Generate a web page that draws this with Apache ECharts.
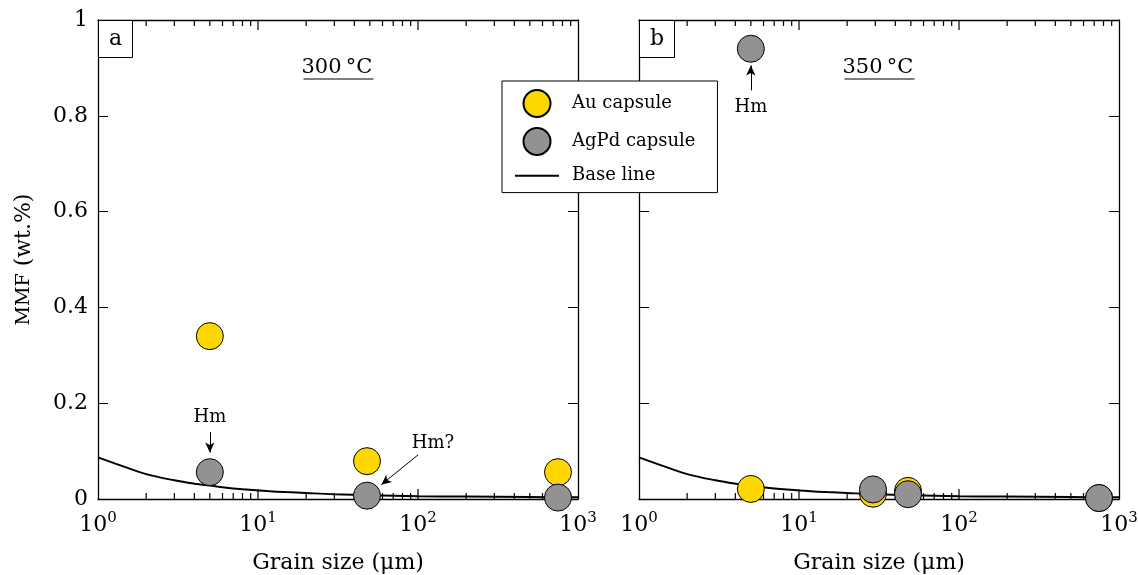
<!DOCTYPE html>
<html>
<head>
<meta charset="utf-8">
<script src="https://cdn.jsdelivr.net/npm/echarts@6/dist/echarts.min.js"></script>
<style>
html,body{margin:0;padding:0;background:#fff;}
#chart{width:1138px;height:575px;}
</style>
</head>
<body>
<div id="chart"></div>
<script>
// ---------- data ----------
var seriesNames = ['Au capsule', 'AgPd capsule', 'Base line'];
var panelLabels = ['a', 'b'];
var panelTemps = ['300\u2009°C', '350\u2009°C'];
var majorTickValues = [10, 100];
var minorTickValues = [2,3,4,5,6,7,8,9,20,30,40,50,60,70,80,90,200,300,400,500,600,700,800,900];

// panel a (300 °C): [grain size µm, MMF wt.%]
var au300 = [[5, 0.34], [48, 0.079], [750, 0.056]];
var agpd300 = [[5, 0.056], [48, 0.007], [750, 0.003]];
// panel b (350 °C)
var au350 = [[5, 0.021], [29, 0.011], [48, 0.017], [750, 0.002]];
var agpd350 = [[5, 0.94], [29, 0.02], [48, 0.01], [750, 0.002]];

// base line
var baseX = [1, 1.5, 2, 3, 4, 5, 7, 10, 15, 20, 30, 50, 100, 200, 500, 1000];
var baseY = [0.087, 0.066, 0.052, 0.039, 0.032, 0.028, 0.022, 0.018, 0.0145, 0.0125, 0.010, 0.008, 0.006, 0.005, 0.004, 0.0035];

// annotations: text [x, y, label]; arrows [[x1,y1],[x2,y2]]
var notes300 = [[5, 0.171, 'Hm'], [124, 0.117, 'Hm?']];
var arrows300 = [[[5, 0.140], [5, 0.097]], [[100, 0.092], [59, 0.030]]];
var notes350 = [[5, 0.818, 'Hm']];
var arrows350 = [[[5, 0.853], [5, 0.905]]];

// ---------- chart ----------
var FONT = 'DejaVu Serif';
var AU_COLOR = '#FFD700';
var AGPD_COLOR = '#929292';
var MAJOR_LEN = 10, MINOR_LEN = 6;

var baseLine = baseX.map(function (x, i) { return [x, baseY[i]]; });
var tickVals = majorTickValues.concat(minorTickValues);
var tickLens = majorTickValues.map(function () { return MAJOR_LEN; })
  .concat(minorTickValues.map(function () { return MINOR_LEN; }));

function xAxisPair(gi) {
  return [{
    gridIndex: gi, type: 'log', logBase: 10, min: 1, max: 1000, position: 'bottom',
    axisLine: { show: true, onZero: false, lineStyle: { color: '#000', width: 1.3 } },
    axisTick: { show: false },
    splitLine: { show: false },
    axisLabel: {
      show: true, margin: 12, color: '#000', fontFamily: FONT,
      formatter: function (v) { return '{b|10}{s|' + Math.round(Math.log10(v)) + '}'; },
      rich: {
        b: { fontSize: 22, fontFamily: FONT, color: '#000', lineHeight: 28 },
        s: { fontSize: 15, fontFamily: FONT, color: '#000', verticalAlign: 'top', lineHeight: 16 }
      }
    },
    name: 'Grain size (μm)', nameLocation: 'middle', nameGap: 53,
    nameTextStyle: { fontFamily: FONT, fontSize: 22, color: '#000' }
  }, {
    gridIndex: gi, type: 'log', logBase: 10, min: 1, max: 1000, position: 'top',
    axisLine: { show: true, onZero: false, lineStyle: { color: '#000', width: 1.3 } },
    axisTick: { show: false },
    splitLine: { show: false },
    axisLabel: { show: false }
  }];
}

function yAxisPair(gi, showLabels) {
  var common = {
    gridIndex: gi, type: 'value', min: 0, max: 1, interval: 0.2,
    axisLine: { show: true, onZero: false, lineStyle: { color: '#000', width: 1.3 } },
    axisTick: { show: true, inside: true, length: 10, lineStyle: { color: '#000', width: 1 } },
    splitLine: { show: false }
  };
  var left = Object.assign({}, common, {
    position: 'left',
    axisLabel: { show: showLabels, margin: 10, color: '#000', fontFamily: FONT, fontSize: 22 }
  });
  if (showLabels) {
    left.name = '{s|MMF} (wt.%)';
    left.nameLocation = 'middle';
    left.nameGap = 63;
    left.nameTextStyle = { fontFamily: FONT, fontSize: 22, color: '#000',
      rich: { s: { fontFamily: FONT, fontSize: 19, color: '#000' } } };
  }
  var right = Object.assign({}, common, { position: 'right', axisLabel: { show: false } });
  return [left, right];
}

// x-axis ticks (major + minor) on bottom and top edges, placed through the log scale
function xTickSeries(gi) {
  return {
    type: 'custom', xAxisIndex: gi * 2, yAxisIndex: gi * 2, silent: true, clip: false,
    zlevel: 1, z: 1,
    data: tickVals.map(function (v) { return [v, 0]; }),
    renderItem: function (params, api) {
      var v = api.value(0);
      var len = tickLens[params.dataIndex];
      var b = api.coord([v, 0]);
      var t = api.coord([v, 1]);
      return {
        type: 'group', children: [
          { type: 'line', shape: { x1: b[0], y1: b[1], x2: b[0], y2: b[1] - len }, style: { stroke: '#000', lineWidth: 1.2 } },
          { type: 'line', shape: { x1: t[0], y1: t[1], x2: t[0], y2: t[1] + len }, style: { stroke: '#000', lineWidth: 1.2 } }
        ]
      };
    }
  };
}

function noteSeries(gi, notes) {
  return {
    type: 'custom', xAxisIndex: gi * 2, yAxisIndex: gi * 2, silent: true, clip: false,
    zlevel: 1, z: 9,
    data: notes.map(function (n) { return [n[0], n[1]]; }),
    renderItem: function (params, api) {
      var p = api.coord([api.value(0), api.value(1)]);
      return {
        type: 'text', x: p[0], y: p[1],
        style: { text: notes[params.dataIndex][2], fill: '#000', fontFamily: FONT, fontSize: 18,
          align: 'center', verticalAlign: 'middle' }
      };
    }
  };
}

function scatter(name, gi, data, color, z, arrows) {
  var s = {
    name: name, type: 'scatter', xAxisIndex: gi * 2, yAxisIndex: gi * 2,
    data: data, symbol: 'circle', symbolSize: 27, zlevel: 1, z: z,
    itemStyle: { color: color, borderColor: '#000', borderWidth: 1, opacity: 1 }
  };
  if (arrows) {
    s.markLine = {
      silent: true, symbol: ['none', 'arrow'], symbolSize: [7, 10], animation: false,
      lineStyle: { color: '#000', width: 1, type: 'solid' }, label: { show: false },
      data: arrows.map(function (a) { return [{ coord: a[0] }, { coord: a[1] }]; })
    };
  }
  return s;
}

function lineSeries(gi) {
  return {
    name: 'Base line', type: 'line', xAxisIndex: gi * 2, yAxisIndex: gi * 2,
    data: baseLine, smooth: 0.4, symbol: 'none', z: 6,
    lineStyle: { color: '#000', width: 2 }, itemStyle: { color: '#000' }
  };
}

var grids = [
  { left: 98, top: 20, width: 480, height: 479, outerBoundsMode: 'none', containLabel: false },
  { left: 639, top: 20, width: 480, height: 479, outerBoundsMode: 'none', containLabel: false }
];

var option = {
  animation: false,
  backgroundColor: '#fff',
  grid: grids,
  xAxis: xAxisPair(0).concat(xAxisPair(1)),
  yAxis: yAxisPair(0, true).concat(yAxisPair(1, false)),
  title: panelLabels.map(function (t, i) {
    return {
      text: t, left: grids[i].left, top: grids[i].top,
      borderColor: '#000', borderWidth: 1, padding: [7, 11, 7, 11], backgroundColor: '#fff',
      textStyle: { fontFamily: FONT, fontSize: 22, fontWeight: 'normal', color: '#000', lineHeight: 24 }
    };
  }),
  legend: {
    data: [
      { name: seriesNames[0] },
      { name: seriesNames[1] },
      { name: seriesNames[2], itemStyle: { color: 'transparent', borderWidth: 0, opacity: 0 } }
    ],
    orient: 'vertical', left: 502, top: 81,
    backgroundColor: '#fff', borderColor: '#000', borderWidth: 1,
    padding: [8, 22, 6, 12], itemGap: 9, itemWidth: 44, itemHeight: 27,
    textStyle: { fontFamily: FONT, fontSize: 18, color: '#000', padding: [0, 0, 0, 8] },
    selectedMode: false, zlevel: 2, z: 20
  },
  graphic: [
    { type: 'group', left: 301, top: 57, children: [
      { type: 'text', left: 0, top: 0, style: { text: panelTemps[0], fontFamily: FONT, fontSize: 21, fill: '#000' } },
      { type: 'line', shape: { x1: 2, y1: 22, x2: 72, y2: 22 }, style: { stroke: '#000', lineWidth: 1.2 } }
    ] },
    { type: 'group', left: 842, top: 57, children: [
      { type: 'text', left: 0, top: 0, style: { text: panelTemps[1], fontFamily: FONT, fontSize: 21, fill: '#000' } },
      { type: 'line', shape: { x1: 2, y1: 22, x2: 72, y2: 22 }, style: { stroke: '#000', lineWidth: 1.2 } }
    ] }
  ],
  series: [
    xTickSeries(0), xTickSeries(1),
    lineSeries(0), lineSeries(1),
    scatter('Au capsule', 0, au300, AU_COLOR, 7),
    scatter('AgPd capsule', 0, agpd300, AGPD_COLOR, 8, arrows300),
    scatter('Au capsule', 1, au350, AU_COLOR, 7),
    scatter('AgPd capsule', 1, agpd350, AGPD_COLOR, 8, arrows350),
    noteSeries(0, notes300), noteSeries(1, notes350)
  ]
};

var chart = echarts.init(document.getElementById('chart'), null, { renderer: 'canvas' });
chart.setOption(option);
</script>
</body>
</html>
